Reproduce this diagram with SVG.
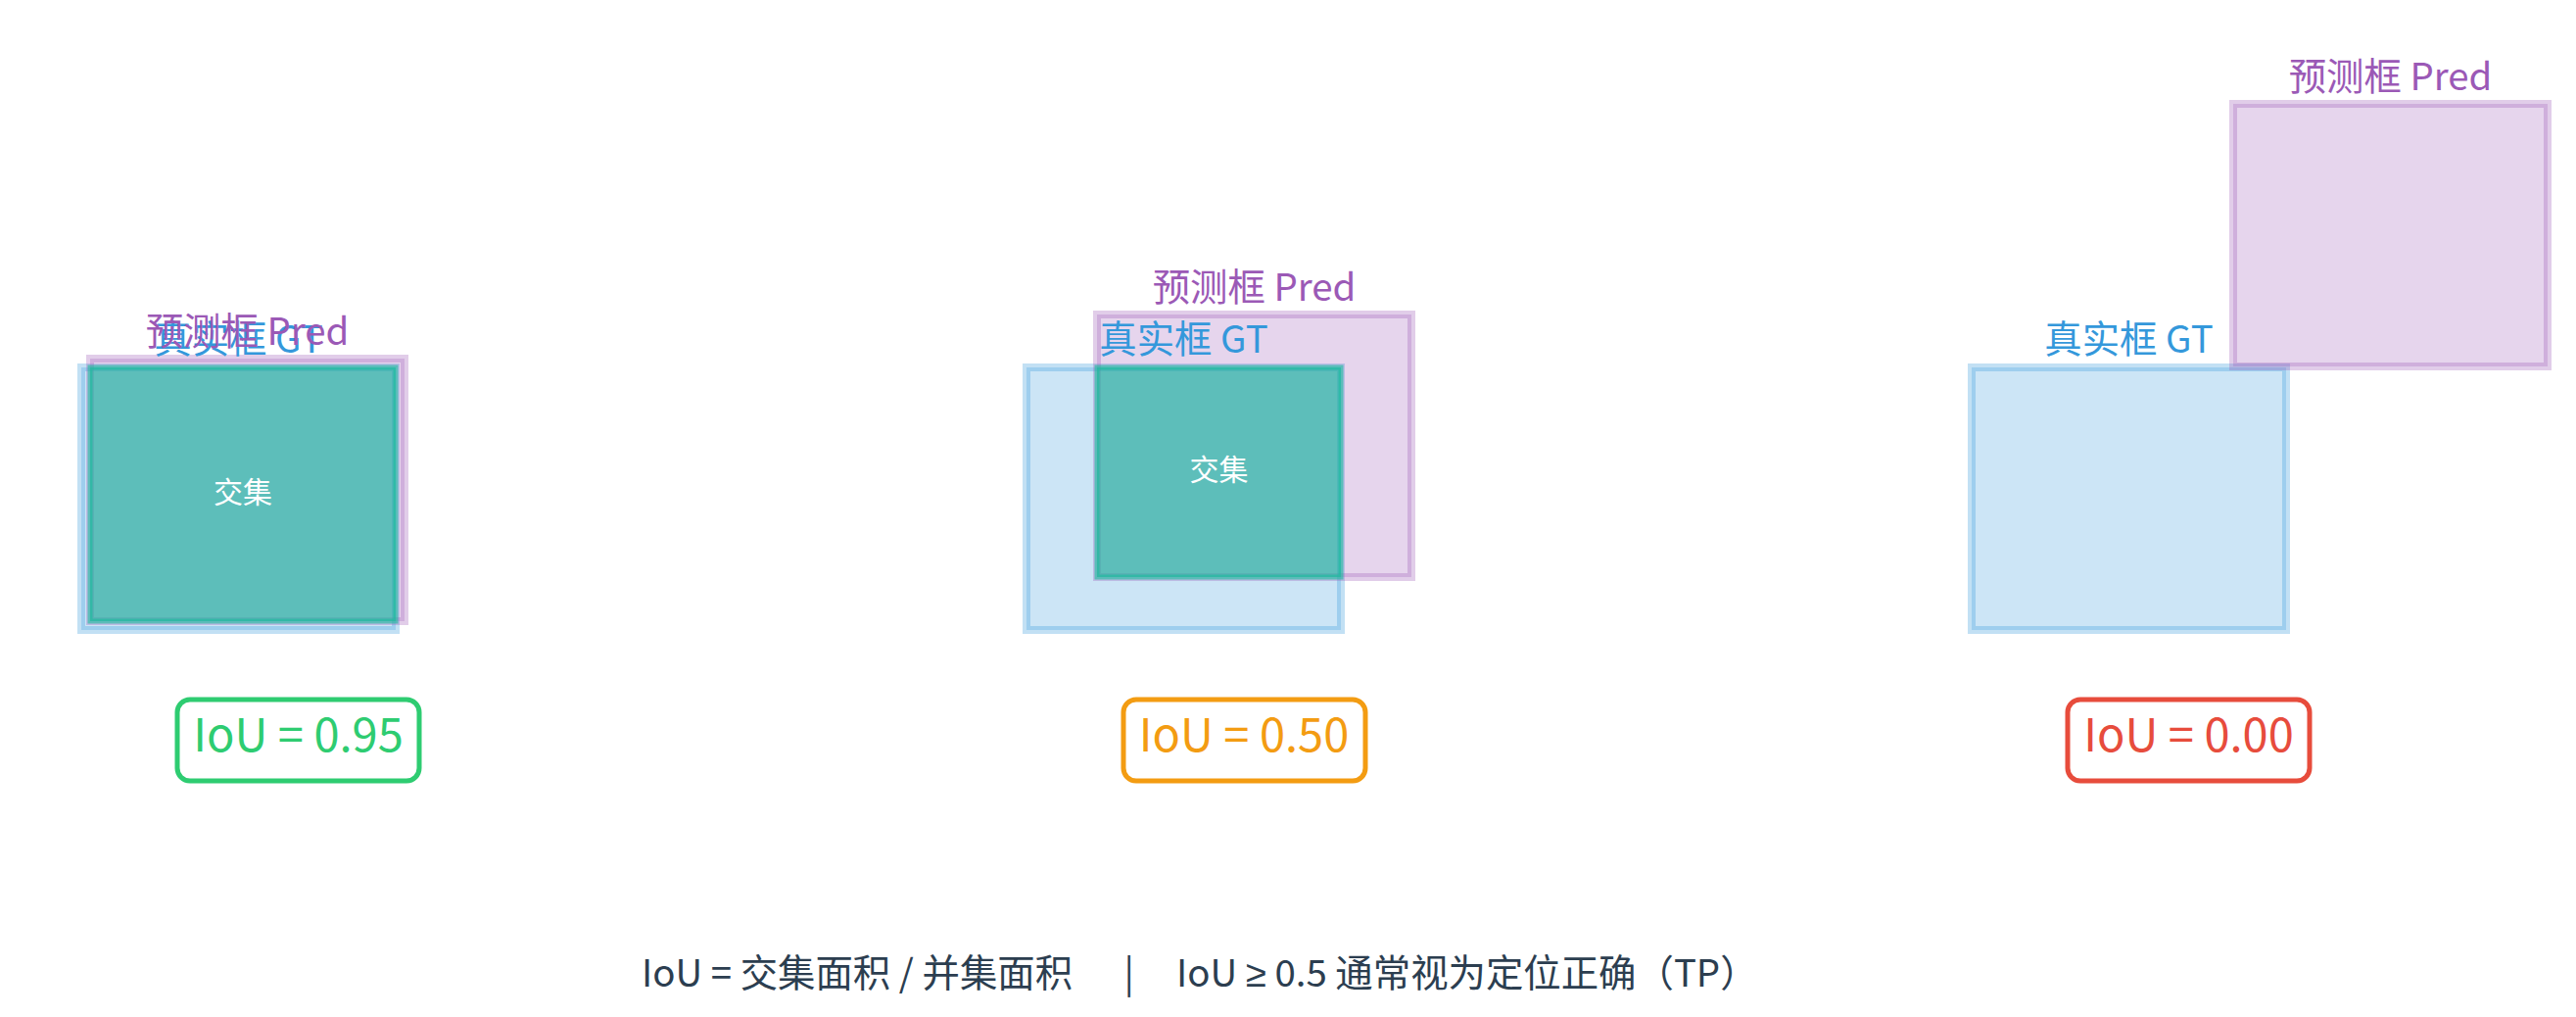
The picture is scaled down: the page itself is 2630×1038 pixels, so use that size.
<svg xmlns="http://www.w3.org/2000/svg" width="2630" height="1038" viewBox="0 0 2630 1038">
<style>
text { font-family: "Noto Sans CJK SC", "Noto Sans", sans-serif; }
.gt { fill: #3498db; fill-opacity: 0.25; stroke: #3498db; stroke-opacity: 0.3; stroke-width: 8; }
.pred { fill: #9b59b6; fill-opacity: 0.25; stroke: #9b59b6; stroke-opacity: 0.3; stroke-width: 8; }
.inter { fill: #1abc9c; fill-opacity: 0.6; stroke: #1abc9c; stroke-opacity: 0.6; stroke-width: 5; }
.gtl { fill: #3498db; font-size: 38.4px; text-anchor: middle; }
.predl { fill: #9b59b6; font-size: 38.4px; text-anchor: middle; }
.il { fill: #ffffff; font-size: 30px; text-anchor: middle; }
.iou { fill: #ffffff; stroke-width: 5; }
.iout { font-size: 47px; text-anchor: middle; }
.foot { fill: #2c3e50; font-size: 38.4px; }
</style>
<rect width="2630" height="1038" fill="#ffffff"/>
<g id="panel-1">
  <rect class="gt" x="83" y="375" width="321" height="268"/>
  <rect class="pred" x="92" y="366" width="321" height="268"/>
  <rect class="inter" x="92" y="375" width="312" height="259"/>
  <text class="gtl" x="243.5" y="360">真实框 GT</text>
  <text class="predl" x="252.5" y="352">预测框 Pred</text>
  <text class="il" x="248" y="513">交集</text>
</g>
<g id="iou-1">
  <rect class="iou" x="181" y="714" width="247" height="83" rx="13" stroke="#2ecc71"/>
  <text class="iout" x="304.5" y="767" fill="#2ecc71">IoU = 0.95</text>
</g>
<g id="panel-2">
  <rect class="gt" x="1048" y="375" width="321" height="268"/>
  <rect class="pred" x="1120" y="321" width="321" height="268"/>
  <rect class="inter" x="1120" y="375" width="249" height="214"/>
  <text class="gtl" x="1208.5" y="360">真实框 GT</text>
  <text class="predl" x="1280.5" y="307">预测框 Pred</text>
  <text class="il" x="1244.5" y="490">交集</text>
</g>
<g id="iou-2">
  <rect class="iou" x="1147" y="714" width="247" height="83" rx="13" stroke="#f39c12"/>
  <text class="iout" x="1270" y="767" fill="#f39c12">IoU = 0.50</text>
</g>
<g id="panel-3">
  <rect class="gt" x="2013" y="375" width="321" height="268"/>
  <rect class="pred" x="2280" y="106" width="321" height="268"/>
  <text class="gtl" x="2173.5" y="360">真实框 GT</text>
  <text class="predl" x="2440.5" y="92">预测框 Pred</text>
</g>
<g id="iou-3">
  <rect class="iou" x="2111" y="714" width="247" height="83" rx="13" stroke="#e74c3c"/>
  <text class="iout" x="2234.5" y="767" fill="#e74c3c">IoU = 0.00</text>
</g>
<g id="connectors"></g>
<g id="footer">
  <text class="foot" x="655" y="1007">IoU = 交集面积 / 并集面积</text>
  <text class="foot" x="1152.7" y="1007" text-anchor="middle">|</text>
  <text class="foot" x="1201" y="1007">IoU <tspan font-family="Noto Sans, sans-serif">≥</tspan> 0.5 通常视为定位正确（TP）</text>
</g>
</svg>
